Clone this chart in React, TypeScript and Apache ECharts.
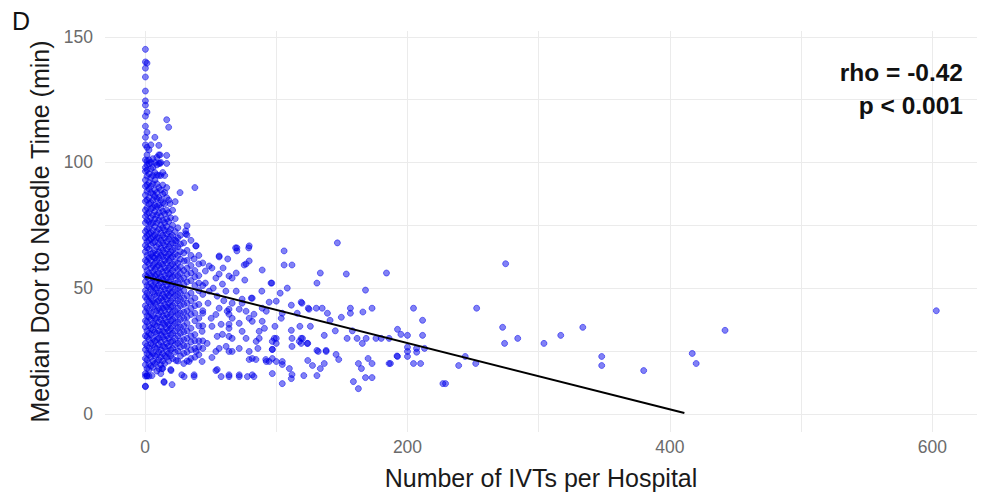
import React, { useEffect, useRef } from "react";
import * as echarts from "echarts";

const xTickLabels = [0, 200, 400, 600];
const yTickLabels = [0, 50, 100, 150];
const xGridValues = [0, 100, 200, 300, 400, 500, 600];
const yGridValues = [0, 25, 50, 75, 100, 125, 150];

// fitted regression line end points
const fitLine = [
  [0, 54.5],
  [411, 0.3],
];

// far right hospitals
const outlierPoints = [
  [603, 41], [442, 33.2], [417, 24], [420, 20], [380, 17.2], [348, 22.8], [348, 19.2],
  [333.6, 34.4], [316.8, 31.2], [304, 28], [284, 30], [274, 28], [272.5, 34.4],
  [274.8, 59.7], [252.7, 42], [252, 20], [244, 22.8], [239, 19.2], [227, 12], [229, 12],
];

// hospitals with 90 - 215 IVTs
const midPoints = [
  [146.6, 68], [133.6, 56], [131, 52], [153.4, 55.6], [184, 56], [168, 49.2], [204.6, 42],
  [211.5, 37.2], [211.5, 31.2], [204.6, 20], [192.4, 33.6], [195, 31.6], [200, 31.2],
  [206.9, 26], [200, 24.8], [200, 22.8], [192.4, 22.8], [186, 20], [173, 42], [180, 30],
  [186, 30], [168.5, 30], [165.6, 28], [161.6, 30], [154, 30], [156.5, 42], [156.5, 40],
  [149.6, 38.4], [141, 37.2], [139, 40], [135, 42], [130.5, 42], [125, 41.6], [119.6, 44],
  [136.6, 31.2], [126, 34.8], [120, 30], [124, 28], [132, 24.8], [138, 24.8], [145.6, 23.6],
  [147.6, 21.6], [124, 21.2], [127.6, 19.2], [133.6, 18], [136.6, 20], [121, 15.2],
  [131, 15.2], [162.6, 20], [164.9, 18], [158.8, 12.8], [162.6, 10], [168, 14.4], [173, 14.4],
  [170, 22], [173, 20], [117.6, 28.8], [106, 64.8], [106, 59.2], [112, 59.2], [96.6, 52],
  [108.4, 50], [103, 48], [119, 44.4], [111.5, 43.2], [94.6, 44.4], [124.4, 42], [104.6, 40],
  [116, 40], [103.8, 38], [99, 34.8], [118, 34.8], [111.5, 33.2], [100, 30], [112, 30],
  [119, 30], [119, 28], [100, 28], [112, 26.8], [123.6, 28], [97, 25.6], [131, 25.2],
  [138, 25.2], [94.6, 20.8], [100, 20.8], [104.6, 20.8], [110, 18], [97, 16], [111.5, 14],
  [104.6, 12], [187, 20], [192, 23], [200, 26.5], [210, 20], [213, 26], [207, 24.5],
  [158, 33], [176, 30], [166, 40.5], [145, 33], [104.6, 19.6], [112, 15.6],
];

// hospitals with 20 - 100 IVTs
const nearPoints = [
  [11.5, 103], [11.5, 99.6], [38, 90], [26.7, 88], [23, 84.4], [19, 83.6], [23, 77.6],
  [32, 74.8], [31, 72.8], [32, 71.2], [39, 66.8], [70, 66], [70, 64.8], [79, 66],
  [56.5, 62.4], [63, 61.6], [79.4, 60.8], [75.6, 59.2], [89.3, 57.2], [69.5, 56], [59.5, 58],
  [48.9, 58.8], [29.8, 60.8], [37.4, 61.6], [23.7, 68.8], [76, 53.2], [96, 52], [89, 48.8],
  [81, 46], [100, 44.8], [92.4, 40.8], [83, 39.6], [89.3, 36.8], [71.8, 36], [64, 35.6],
  [87, 32.8], [77, 30], [84.7, 28.8], [98.5, 30], [97, 25.6], [71.8, 26], [61.8, 26.8],
  [54, 24.8], [64, 24.8], [79.4, 21.6], [84.5, 21.6], [92.4, 20.8], [78, 14.8], [71.8, 14.8],
  [64, 14.8], [58, 14.8], [54, 17.2], [83, 14.8], [37.4, 14.8], [29.8, 14.8], [19.8, 17.2],
  [14.5, 12.8], [20.6, 11.6], [0.3, 10.8], [1.5, 15.2], [5.3, 15.2], [13, 18], [43.5, 20.8],
  [51, 22.4], [33.6, 20.8], [23.7, 21.2], [39, 24.8], [47.3, 28], [55, 30.8], [43.5, 32.8],
  [58, 35.6], [50.4, 38], [62.6, 40.8], [56.5, 42], [66.4, 44], [55, 46.8], [48.9, 48.8],
  [64, 39.6], [71.8, 41.6], [77, 40.8], [79.4, 38], [54, 54], [64, 54.8], [59, 51.6],
  [69.5, 48.8], [74, 45.6], [66.4, 30], [59, 31.6], [64, 30.8], [79.4, 24.8], [97, 22],
  [69, 66], [79.4, 66.8], [56.5, 62.8], [77, 59.6], [51, 58], [56.5, 55.6], [41, 59.6],
  [46, 56.8], [38.6, 66.8], [31, 71.6], [66.4, 54], [61.6, 48.8], [81.7, 46], [74, 44],
  [89.3, 42], [64, 41.6], [54, 39.5], [66.4, 38], [81.7, 36.8], [51, 34.8], [64, 34],
  [74, 32.8], [87, 30], [97, 28.8], [56.5, 26], [66.4, 24.8], [81.7, 22], [92, 21.6],
  [55, 17.6], [64, 15.5], [71.8, 15.5], [81.7, 15.5], [28, 15.5], [37.4, 15.5], [19.6, 17.6],
  [14.5, 12.5], [48, 44], [46, 52], [52, 50], [44, 40], [60, 45], [86, 26], [91, 34],
];

// dense core of small hospitals: [IVTs, door-to-needle times]
const coreColumns: [number, number[]][] = [
  [0.3, [145, 140, 137.5, 134, 128.4, 124.5, 122.8, 118.4, 114.4, 110, 107, 101, 98, 96.5, 93, 90.5, 87, 84.5, 81, 78.5, 76, 72.5, 70, 67, 64.5, 61, 58.5, 55, 52.5, 49, 46.5, 43, 40.5, 37, 34.5, 31, 28, 25.5, 22, 19.5, 16, 15, 11]],
  [1.5, [139.5, 120, 112, 106, 103, 100.5, 99, 97, 94.5, 91, 88.5, 85, 82, 79.5, 77, 73.5, 71, 68.5, 66, 63, 60.5, 57, 54.5, 51, 48, 45.5, 42, 39, 36.5, 33, 30.5, 27, 24, 21.5, 18, 15]],
  [3, [105, 101, 99.5, 95.5, 92, 89.5, 86, 83.5, 80, 76.5, 74, 71.5, 69, 65.5, 62, 59.5, 56, 53.5, 50.5, 47, 44.5, 41, 38.5, 35, 32, 29.5, 26, 23.5, 20, 17.5, 15]],
  [4.5, [107, 100, 97.5, 94, 90.5, 88, 84, 81.5, 78, 75.5, 72, 69.5, 67, 63.5, 61, 58, 55, 52, 49.5, 46, 43.5, 40, 37.5, 34, 31.5, 28, 25, 22.5, 19]],
  [6, [101.5, 98, 94.8, 91.5, 87.5, 85, 82, 79, 76, 73, 70.5, 68, 64, 62.5, 59, 56.5, 54, 51, 48.5, 45, 42.5, 39, 36, 33.5, 30, 27.5, 24, 21, 18.5]],
  [7.5, [110, 100, 96, 93, 89, 86.5, 83, 80.5, 77.5, 74.5, 71, 68.5, 65, 62, 60, 57.5, 55, 52.5, 50, 47.5, 44, 41.5, 38, 35.5, 32.5, 29, 26.5, 23, 20]],
  [9, [102, 99, 95, 91.5, 88, 85.5, 82.5, 79, 76, 72.5, 70, 66.5, 63.5, 61, 58.5, 55.5, 53, 50, 47, 44.5, 41, 38, 35, 32, 29.5, 26, 23.5, 20.5, 17]],
  [10.5, [106.8, 103, 99.6, 94.8, 90, 86, 83, 80, 77, 73.5, 70, 67.5, 64.5, 62, 59, 56, 53.5, 51, 48, 45, 42, 39.5, 36.5, 33, 30, 27.5, 24.5, 21.5, 18]],
  [12, [100, 94.8, 89, 85, 82, 78.5, 75, 72, 69, 66, 63, 60, 57.5, 54.5, 52, 49, 46, 43, 40.5, 37.5, 34.5, 31.5, 28.5, 25.5, 22.5, 19.5, 16]],
  [13.5, [96, 91, 87.5, 84, 80.5, 77, 74, 71, 68, 65, 62.5, 59.5, 56.5, 53.5, 50.5, 47.5, 45, 42, 39, 36, 33, 30.5, 27, 24, 21, 18]],
  [15, [94.8, 88, 83.6, 79.5, 76, 73, 70, 67, 64, 61, 58, 55, 52.5, 49.5, 46.5, 43.5, 41, 38, 35.5, 32.5, 29.5, 26.5, 23, 20]],
  [16.5, [117, 102.8, 99.6, 90, 86, 81, 77.5, 74.5, 71.5, 68.5, 65.5, 62.5, 60, 57, 54, 51, 48, 45.5, 42.5, 39.5, 36.5, 34, 31, 28, 25, 22.5]],
  [18, [114, 85, 80, 76.5, 72.5, 69.5, 66.5, 63.5, 61, 58, 55.5, 52.5, 49.5, 47, 44, 41.5, 38.5, 35.5, 33, 30, 27, 24, 21]],
  [19.5, [78, 73.5, 70.5, 67.5, 64.5, 62, 59, 56, 53.5, 50.5, 48, 45, 42.5, 39.5, 37, 34, 31.5, 28.5, 25.5, 23]],
  [21, [81, 75, 71, 68, 65, 62.5, 59.5, 57, 54.5, 51.5, 48.5, 46, 43, 40.5, 37.5, 35, 32, 29, 26, 22]],
  [23, [72.5, 69, 66, 63.5, 60.5, 58, 55, 52, 49.5, 47, 44, 41, 38.5, 36, 33, 30, 27.5, 24.5]],
  [25, [74, 70, 66.5, 63, 60, 57.5, 55, 52.5, 50, 47.5, 45, 42, 39.5, 36.5, 34, 31, 28, 25, 21]],
  [27, [71, 67.5, 64.5, 61.5, 58.5, 56, 53.5, 50.5, 48, 45.5, 43, 40, 37.5, 34.5, 32, 29, 26.5, 23]],
  [29.5, [68, 64, 57, 54, 51.5, 49, 46, 43.5, 40.5, 38, 35, 32.5, 29.5, 27, 24, 20]],
  [32, [65, 61, 58, 55.5, 52.5, 47, 44, 41, 38.5, 36, 33, 30, 27, 24.5, 21]],
  [35, [69, 63, 59, 56, 53, 48, 45, 42, 39.5, 34, 31, 28.5, 25.5, 22]],
  [38, [57, 54.5, 51, 46, 43, 40, 37, 31.5, 29, 26, 22.5]],
  [41, [63, 55, 52, 49, 43.5, 38, 35, 29, 26.5, 23.5]],
  [44, [60, 51, 47.5, 41, 35, 29, 26]],
];

const FONT = "'Liberation Sans', Arial, Helvetica, sans-serif";

export default function App() {
  const ref = useRef<HTMLDivElement>(null);

  useEffect(() => {
    document.body.style.margin = "0";
    const chart = echarts.init(ref.current!, null, { renderer: "svg" });
    const corePoints = coreColumns.flatMap(([x, ys]) => ys.map((y) => [x, y]));
    const allPoints = [...corePoints, ...nearPoints, ...midPoints, ...outlierPoints];

    const gridLineData = [
      ...xGridValues.map((v) => ({ xAxis: v })),
      ...yGridValues.map((v) => ({ yAxis: v })),
    ];

    chart.setOption({
      animation: false,
      backgroundColor: "#ffffff",
      textStyle: { fontFamily: FONT },
      grid: { left: 105, top: 31, width: 872, height: 401 },
      xAxis: {
        type: "value",
        min: -30.5,
        max: 634,
        axisLine: { show: false },
        axisTick: { show: false },
        splitLine: { show: false },
        axisLabel: {
          customValues: xTickLabels,
          color: "#6b6b6b",
          fontSize: 17.5,
          fontFamily: FONT,
          margin: 6,
        },
        name: "Number of IVTs per Hospital",
        nameLocation: "middle",
        nameGap: 33,
        nameTextStyle: { color: "#1a1a1a", fontSize: 25, fontFamily: FONT },
      },
      yAxis: {
        type: "value",
        min: -7.25,
        max: 152.3,
        axisLine: { show: false },
        axisTick: { show: false },
        splitLine: { show: false },
        axisLabel: {
          customValues: yTickLabels,
          color: "#6b6b6b",
          fontSize: 17.5,
          fontFamily: FONT,
          margin: 12,
        },
        name: "Median Door to Needle Time (min)",
        nameLocation: "middle",
        nameGap: 48,
        nameTextStyle: { color: "#1a1a1a", fontSize: 25, fontFamily: FONT },
      },
      graphic: [
        {
          type: "text",
          left: 12,
          top: 8,
          z: 10,
          style: { text: "D", fontSize: 25, fill: "#111", fontFamily: FONT },
        },
        {
          type: "text",
          x: 963,
          y: 72,
          z: 10,
          style: {
            text: "rho = -0.42",
            fontSize: 24.5,
            fontWeight: "bold",
            fill: "#111",
            align: "right",
            verticalAlign: "middle",
            fontFamily: FONT,
          },
        },
        {
          type: "text",
          x: 963,
          y: 105,
          z: 10,
          style: {
            text: "p < 0.001",
            fontSize: 24.5,
            fontWeight: "bold",
            fill: "#111",
            align: "right",
            verticalAlign: "middle",
            fontFamily: FONT,
          },
        },
      ],
      series: [
        {
          type: "scatter",
          data: [],
          z: 0,
          silent: true,
          markLine: {
            z: 0,
            silent: true,
            symbol: ["none", "none"],
            label: { show: false },
            lineStyle: { color: "#ebebeb", width: 1, type: "solid" },
            emphasis: { disabled: true },
            data: gridLineData,
          },
        },
        {
          type: "scatter",
          data: allPoints,
          z: 2,
          symbol: "circle",
          symbolSize: 6,
          itemStyle: {
            color: "rgba(0,0,235,0.62)",
            borderColor: "rgba(0,0,235,0.62)",
            borderWidth: 1,
          },
          silent: true,
        },
        {
          type: "line",
          data: fitLine,
          z: 3,
          symbol: "none",
          silent: true,
          lineStyle: { color: "#000000", width: 2 },
        },
      ],
    });

    return () => chart.dispose();
  }, []);

  return <div ref={ref} style={{ width: 981, height: 502 }} />;
}
